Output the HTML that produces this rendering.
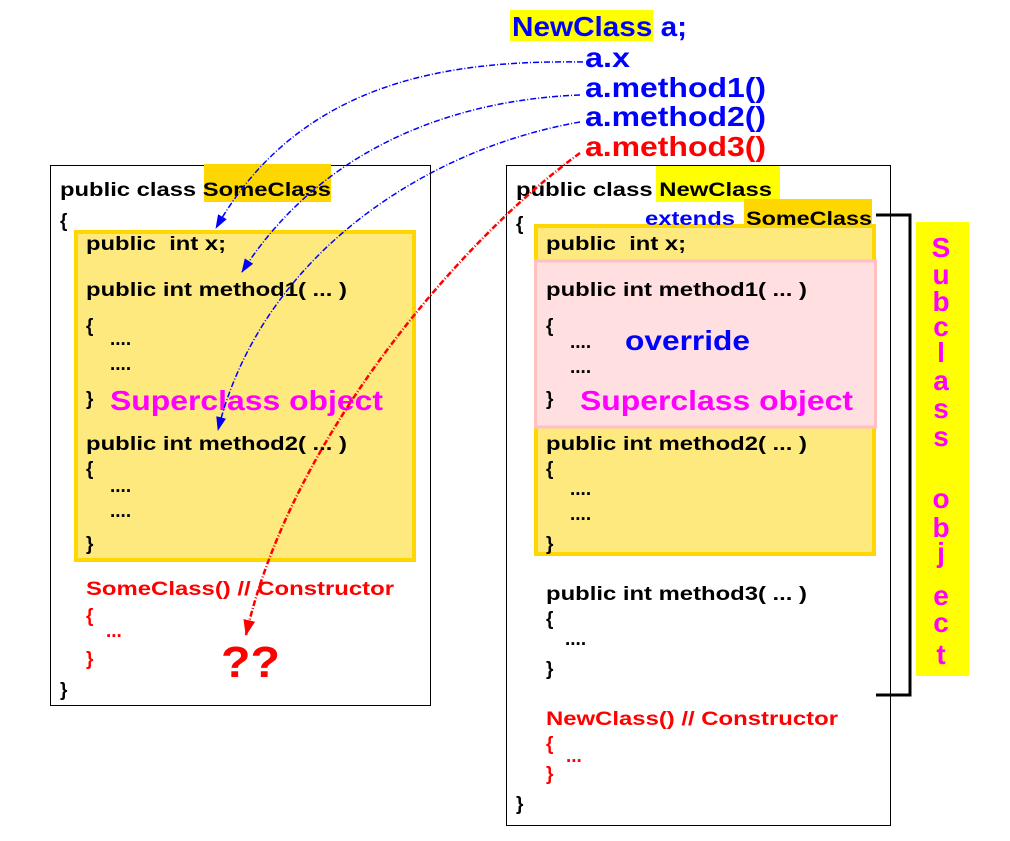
<!DOCTYPE html>
<html><head><meta charset="utf-8"><style>
html,body{margin:0;padding:0;background:#fff}
svg{display:block}
text{font-family:"Liberation Sans",Arial,sans-serif;font-weight:bold}
</style></head><body>
<svg width="1010" height="841" viewBox="0 0 1010 841" xmlns="http://www.w3.org/2000/svg">
<defs>
<marker id="ab" markerWidth="14" markerHeight="10" refX="13" refY="5" orient="auto" markerUnits="userSpaceOnUse"><path d="M0,0 L14,5 L0,10 z" fill="#0000ff"/></marker>
<marker id="ar" markerWidth="16" markerHeight="12" refX="15" refY="6" orient="auto" markerUnits="userSpaceOnUse"><path d="M0,0 L16,6 L0,12 z" fill="#ff0000"/></marker>
</defs>
<rect width="1010" height="841" fill="#fff"/>

<rect x="50.5" y="165.5" width="380" height="540" fill="#fff" stroke="#000" stroke-width="1"/>
<rect x="204" y="164" width="127" height="38" fill="#ffd700"/>
<rect x="76" y="232" width="338" height="328" fill="#fde97e" stroke="#ffd700" stroke-width="4"/>

<g font-size="19" fill="#000">
<text x="60" y="196" textLength="271" lengthAdjust="spacingAndGlyphs">public class SomeClass</text>
<text x="60" y="227">{</text>
<text x="86" y="250" textLength="140" lengthAdjust="spacingAndGlyphs">public&#160;&#160;int x;</text>
<text x="86" y="296" textLength="261" lengthAdjust="spacingAndGlyphs">public int method1( ... )</text>
<text x="86" y="332">{</text>
<text x="110" y="345">....</text>
<text x="110" y="370">....</text>
<text x="86" y="405">}</text>
<text x="86" y="450" textLength="261" lengthAdjust="spacingAndGlyphs">public int method2( ... )</text>
<text x="86" y="475">{</text>
<text x="110" y="492">....</text>
<text x="110" y="517">....</text>
<text x="86" y="550">}</text>
<text x="60" y="696">}</text>
</g>
<text x="110" y="410" font-size="28" fill="#ff00ff" textLength="273" lengthAdjust="spacingAndGlyphs">Superclass object</text>
<g font-size="19" fill="#ff0000">
<text x="86" y="595" textLength="308" lengthAdjust="spacingAndGlyphs">SomeClass() // Constructor</text>
<text x="86" y="622">{</text>
<text x="106" y="637">...</text>
<text x="86" y="665">}</text>
</g>
<text x="221" y="677" font-size="44" fill="#ff0000" textLength="59" lengthAdjust="spacingAndGlyphs">??</text>

<rect x="506.5" y="165.5" width="384" height="660" fill="#fff" stroke="#000" stroke-width="1"/>
<rect x="656" y="166" width="124" height="36" fill="#ffff00"/>
<rect x="744" y="199" width="128" height="38" fill="#ffd700"/>
<rect x="536" y="226" width="338" height="328" fill="#fde97e" stroke="#ffd700" stroke-width="4"/>
<rect x="535.5" y="261" width="340" height="166" fill="#ffdfe0" stroke="#ffc0c0" stroke-width="3"/>

<g font-size="19" fill="#000">
<text x="516" y="196" textLength="256" lengthAdjust="spacingAndGlyphs">public class NewClass</text>
<text x="746" y="225" textLength="126" lengthAdjust="spacingAndGlyphs">SomeClass</text>
<text x="516" y="230">{</text>
<text x="546" y="250" textLength="140" lengthAdjust="spacingAndGlyphs">public&#160;&#160;int x;</text>
<text x="546" y="296" textLength="261" lengthAdjust="spacingAndGlyphs">public int method1( ... )</text>
<text x="546" y="332">{</text>
<text x="570" y="348">....</text>
<text x="570" y="373">....</text>
<text x="546" y="405">}</text>
<text x="546" y="450" textLength="261" lengthAdjust="spacingAndGlyphs">public int method2( ... )</text>
<text x="546" y="475">{</text>
<text x="570" y="495">....</text>
<text x="570" y="520">....</text>
<text x="546" y="550">}</text>
<text x="546" y="600" textLength="261" lengthAdjust="spacingAndGlyphs">public int method3( ... )</text>
<text x="546" y="625">{</text>
<text x="565" y="645">....</text>
<text x="546" y="675">}</text>
<text x="516" y="810">}</text>
</g>
<text x="645" y="225" font-size="19" fill="#0000ff" textLength="90" lengthAdjust="spacingAndGlyphs">extends</text>
<text x="625" y="350" font-size="28" fill="#0000ff" textLength="125" lengthAdjust="spacingAndGlyphs">override</text>
<text x="580" y="410" font-size="28" fill="#ff00ff" textLength="273" lengthAdjust="spacingAndGlyphs">Superclass object</text>
<g font-size="19" fill="#ff0000">
<text x="546" y="725" textLength="292" lengthAdjust="spacingAndGlyphs">NewClass() // Constructor</text>
<text x="546" y="750">{</text>
<text x="566" y="762">...</text>
<text x="546" y="780">}</text>
</g>

<path d="M876,215 H910 V695 H876" fill="none" stroke="#000" stroke-width="3"/>
<rect x="916" y="222" width="53" height="454" fill="#ffff00"/>
<g font-size="28" fill="#ff00ff" text-anchor="middle">
<text x="941" y="257">S</text>
<text x="941" y="284">u</text>
<text x="941" y="311">b</text>
<text x="941" y="336">c</text>
<text x="941" y="362">l</text>
<text x="941" y="390">a</text>
<text x="941" y="418">s</text>
<text x="941" y="446">s</text>
<text x="941" y="508">o</text>
<text x="941" y="537">b</text>
<text x="941" y="562">j</text>
<text x="941" y="605">e</text>
<text x="941" y="632">c</text>
<text x="941" y="664">t</text>
</g>

<rect x="510" y="10" width="143" height="31" fill="#ffff00"/>
<text x="512" y="36" font-size="28" fill="#0000ff" textLength="175" lengthAdjust="spacingAndGlyphs">NewClass a;</text>
<g font-size="28" fill="#0000ff">
<text x="585" y="67" textLength="45" lengthAdjust="spacingAndGlyphs">a.x</text>
<text x="585" y="97" textLength="181" lengthAdjust="spacingAndGlyphs">a.method1()</text>
<text x="585" y="126" textLength="181" lengthAdjust="spacingAndGlyphs">a.method2()</text>
</g>
<text x="585" y="156" font-size="28" fill="#ff0000" textLength="181" lengthAdjust="spacingAndGlyphs">a.method3()</text>

<g fill="none" stroke-width="1.5" stroke-dasharray="6,2,1,2">
<path d="M583,62 C450,60 300,80 216,228" stroke="#0000ff" marker-end="url(#ab)"/>
<path d="M580,95 C450,100 320,150 242,272" stroke="#0000ff" marker-end="url(#ab)"/>
<path d="M580,122 C420,150 260,260 218,430" stroke="#0000ff" marker-end="url(#ab)"/>
<path d="M580,153 C460,240 290,440 246,635" stroke="#ff0000" stroke-width="2.5" marker-end="url(#ar)"/>
</g>
</svg>
</body></html>
